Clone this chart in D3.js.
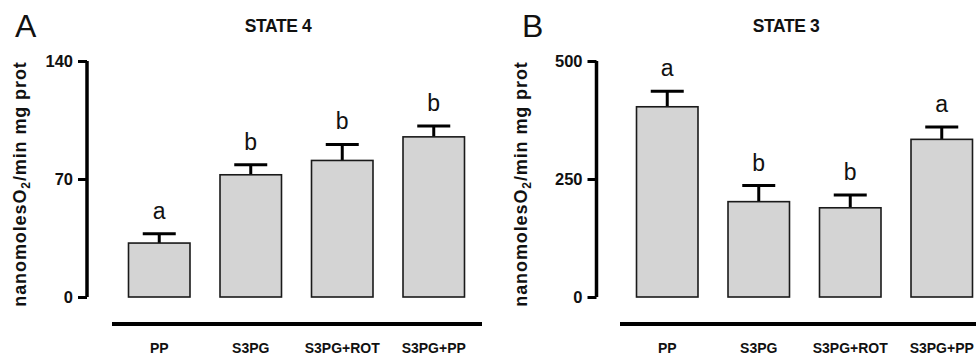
<!DOCTYPE html>
<html>
<head>
<meta charset="utf-8">
<script src="https://cdn.jsdelivr.net/npm/d3@7"></script>
<style>
  body { margin: 0; background: #fff; }
  text { font-family: "Liberation Sans", Arial, sans-serif; }
</style>
</head>
<body>
<div id="chart-area"></div>
<script>
// categories + values
var categories = ["PP", "S3PG", "S3PG+ROT", "S3PG+PP"];

var state4Means = [32, 72.5, 81, 95];
var state4Errors = [5.5, 6, 9.5, 6.5];
var state4Letters = ["a", "b", "b", "b"];
var state4Ticks = [0, 70, 140];

var state3Means = [403, 202, 189, 334];
var state3Errors = [33, 34, 27, 26];
var state3Letters = ["a", "b", "b", "a"];
var state3Ticks = [0, 250, 500];

var width = 976, height = 358;

var svg = d3.select("#chart-area")
	.append("svg")
		.attr("width", width)
		.attr("height", height);

var panels = [
	{ letter: "A", title: "STATE 4", means: state4Means, errors: state4Errors,
	  letters: state4Letters, ticks: state4Ticks, max: 140,
	  axisX: 87, bandRange: [113.5, 479.5], lineRange: [112, 482],
	  titleX: 278, letterX: 15, labelX: 25.5 },
	{ letter: "B", title: "STATE 3", means: state3Means, errors: state3Errors,
	  letters: state3Letters, ticks: state3Ticks, max: 500,
	  axisX: 596.5, bandRange: [621.5, 987.5], lineRange: [620, 990],
	  titleX: 786, letterX: 522, labelX: 527 }
];

var yTop = 61, yBottom = 297;

panels.forEach(function(p) {
	var g = svg.append("g");

	var x = d3.scaleBand()
		.domain(categories)
		.range(p.bandRange)
		.paddingInner(0.328)
		.paddingOuter(0.164);

	var y = d3.scaleLinear()
		.domain([0, p.max])
		.range([yBottom, yTop]);

	// panel letter + title
	g.append("text")
		.attr("x", p.letterX)
		.attr("y", 36.5)
		.attr("font-size", "32px")
		.attr("fill", "#111")
		.text(p.letter);

	g.append("text")
		.attr("x", p.titleX)
		.attr("y", 31.5)
		.attr("text-anchor", "middle")
		.attr("font-size", "17.5px")
		.attr("font-weight", "bold")
		.attr("letter-spacing", "-0.4px")
		.attr("fill", "#111")
		.text(p.title);

	// Y axis
	var yAxisCall = d3.axisLeft(y)
		.tickValues(p.ticks)
		.tickSize(9)
		.tickPadding(5);
	var yAxisGroup = g.append("g")
		.attr("transform", "translate(" + p.axisX + ",0)")
		.call(yAxisCall);
	yAxisGroup.select(".domain")
		.attr("d", "M0," + yTop + "V" + yBottom)
		.attr("stroke", "#000")
		.attr("stroke-width", 3.5);
	yAxisGroup.selectAll(".tick line")
		.attr("stroke", "#000")
		.attr("stroke-width", 3);
	yAxisGroup.selectAll(".tick text")
		.attr("font-size", "16.5px")
		.attr("font-weight", "bold")
		.attr("font-family", "'Liberation Sans', Arial, sans-serif")
		.attr("fill", "#111");

	// Y label
	var yLabel = g.append("text")
		.attr("transform", "translate(" + p.labelX + "," + 184 + ") rotate(-90)")
		.attr("text-anchor", "middle")
		.attr("font-size", "18px")
		.attr("font-weight", "bold")
		.attr("letter-spacing", "0.9px")
		.attr("fill", "#111");
	yLabel.append("tspan").text("nanomolesO");
	yLabel.append("tspan").attr("dy", 4).attr("font-size", "12px").text("2");
	yLabel.append("tspan").attr("dy", -4).text("/min mg prot");

	var data = categories.map(function(c, i) {
		return { cat: c, mean: p.means[i], err: p.errors[i], letter: p.letters[i] };
	});

	// error bars (upper only)
	var errs = g.selectAll(".err").data(data).enter().append("g").attr("class", "err");
	errs.append("line")
		.attr("x1", function(d) { return x(d.cat) + x.bandwidth() / 2; })
		.attr("x2", function(d) { return x(d.cat) + x.bandwidth() / 2; })
		.attr("y1", function(d) { return y(d.mean); })
		.attr("y2", function(d) { return y(d.mean + d.err); })
		.attr("stroke", "#000")
		.attr("stroke-width", 3);
	errs.append("line")
		.attr("x1", function(d) { return x(d.cat) + x.bandwidth() / 2 - 16.5; })
		.attr("x2", function(d) { return x(d.cat) + x.bandwidth() / 2 + 16.5; })
		.attr("y1", function(d) { return y(d.mean + d.err); })
		.attr("y2", function(d) { return y(d.mean + d.err); })
		.attr("stroke", "#000")
		.attr("stroke-width", 3);

	// bars
	g.selectAll("rect").data(data).enter()
		.append("rect")
			.attr("x", function(d) { return x(d.cat); })
			.attr("y", function(d) { return y(d.mean); })
			.attr("width", x.bandwidth())
			.attr("height", function(d) { return yBottom - y(d.mean); })
			.attr("fill", "#d4d4d4")
			.attr("stroke", "#1a1a1a")
			.attr("stroke-width", 1.6);

	// significance letters
	g.selectAll(".sig").data(data).enter()
		.append("text")
			.attr("class", "sig")
			.attr("x", function(d) { return x(d.cat) + x.bandwidth() / 2; })
			.attr("y", function(d) { return y(d.mean + d.err) - 15; })
			.attr("text-anchor", "middle")
			.attr("font-size", "23px")
			.attr("fill", "#111")
			.text(function(d) { return d.letter; });

	// horizontal group line
	g.append("line")
		.attr("x1", p.lineRange[0])
		.attr("x2", p.lineRange[1])
		.attr("y1", 324)
		.attr("y2", 324)
		.attr("stroke", "#000")
		.attr("stroke-width", 4);

	// category labels
	g.selectAll(".cat").data(data).enter()
		.append("text")
			.attr("class", "cat")
			.attr("x", function(d) { return x(d.cat) + x.bandwidth() / 2; })
			.attr("y", 352.5)
			.attr("text-anchor", "middle")
			.attr("font-size", "14px")
			.attr("font-weight", "bold")
			.attr("fill", "#111")
			.text(function(d) { return d.cat; });
});
</script>
</body>
</html>
